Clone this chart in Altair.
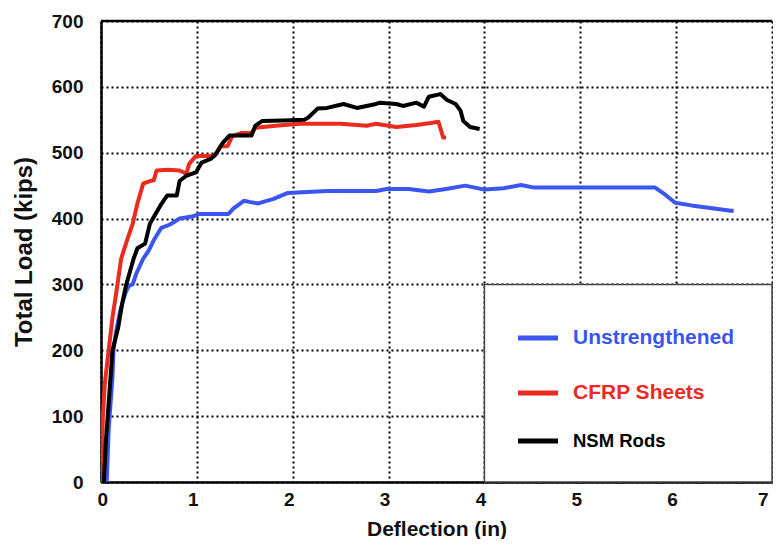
import altair as alt
import pandas as pd

# ---- data ----
unstr_x = [0.06, 0.07, 0.08, 0.10, 0.12, 0.13, 0.16, 0.20, 0.25, 0.29, 0.33, 0.37, 0.44, 0.50, 0.55,
           0.63, 0.72, 0.82, 0.95, 1.03, 1.20, 1.33, 1.38, 1.49, 1.56, 1.64, 1.80, 1.95, 2.10, 2.36,
           2.64, 2.87, 2.98, 3.21, 3.42, 3.60, 3.80, 4.00, 4.20, 4.38, 4.52, 5.00, 5.50, 5.78, 5.88,
           5.99, 6.16, 6.57, 6.60]
unstr_y = [0, 40, 80, 120, 160, 200, 230, 260, 285, 298, 300, 317, 339, 352, 367,
           386, 391, 400, 403, 407, 407, 407, 415, 427, 425, 423, 430, 439, 440, 442,
           442, 442, 445, 445, 441, 445, 450, 444, 446, 451, 447, 447, 447, 447, 437,
           424, 420, 412, 412]

cfrp_x = [0.00, 0.01, 0.02, 0.04, 0.08, 0.12, 0.17, 0.21, 0.26, 0.33, 0.38, 0.44, 0.51, 0.55, 0.58,
          0.70, 0.82, 0.89, 0.92, 0.99, 1.10, 1.18, 1.25, 1.32, 1.37, 1.47, 1.57, 1.61, 1.82, 2.08,
          2.50, 2.77, 2.87, 3.08, 3.29, 3.44, 3.52, 3.57, 3.60]
cfrp_y = [0, 50, 100, 150, 200, 250, 298, 339, 362, 392, 423, 453, 457, 458, 473,
          474, 473, 468, 483, 495, 495, 495, 510, 510, 525, 530, 530, 538, 541, 544,
          544, 541, 544, 539, 542, 545, 547, 523, 523]

nsm_x = [0.03, 0.05, 0.08, 0.12, 0.18, 0.22, 0.26, 0.34, 0.38, 0.46, 0.51, 0.62, 0.69, 0.79, 0.82,
         0.89, 0.99, 1.05, 1.15, 1.20, 1.27, 1.34, 1.45, 1.57, 1.61, 1.68, 1.90, 2.12, 2.16, 2.26,
         2.36, 2.53, 2.67, 2.87, 2.91, 3.08, 3.15, 3.29, 3.37, 3.42, 3.54, 3.61, 3.70, 3.75, 3.78,
         3.85, 3.95]
nsm_y = [0, 60, 120, 200, 235, 270, 298, 339, 355, 362, 392, 420, 435, 435, 457,
         465, 470, 485, 491, 498, 515, 526, 526, 526, 541, 548, 549, 550, 553, 567,
         568, 574, 568, 574, 576, 574, 571, 576, 570, 585, 589, 580, 574, 564, 548,
         539, 536]

series_names = ["Unstrengthened", "CFRP Sheets", "NSM Rods"]
series_colors = ["#3b55f2", "#ec2a1e", "#000000"]
x_ticks = [0, 1, 2, 3, 4, 5, 6, 7]
y_ticks = [0, 100, 200, 300, 400, 500, 600, 700]

rows = []
for name, xs, ys in zip(series_names, [unstr_x, cfrp_x, nsm_x], [unstr_y, cfrp_y, nsm_y]):
    for i, (a, b) in enumerate(zip(xs, ys)):
        rows.append({"series": name, "x": a, "y": b, "i": i})
df = pd.DataFrame(rows)

FONT = "Liberation Sans"
W, H = 671, 461

xscale = alt.Scale(domain=[0, 7], nice=False, zero=False)
yscale = alt.Scale(domain=[0, 700], nice=False, zero=False)
color_scale = alt.Scale(domain=series_names, range=series_colors)

lines = alt.Chart(df).mark_line(strokeWidth=4, strokeJoin="round", clip=True).encode(
    x=alt.X("x:Q", scale=xscale, axis=alt.Axis(
        values=x_ticks, title="Deflection (in)", format="d",
        grid=True, gridColor="#000", gridDash=[2, 3], gridWidth=2,
        domainColor="#000", domainWidth=2.5, ticks=False,
        labelFont=FONT, labelFontSize=19, labelFontWeight="bold", labelColor="#111",
        labelPadding=8, labelOffset=-4,
        titleFont=FONT, titleFontSize=21, titleFontWeight="bold", titleColor="#111",
        titlePadding=9)),
    y=alt.Y("y:Q", scale=yscale, axis=alt.Axis(
        values=y_ticks, title="Total Load (kips)", format="d",
        grid=True, gridColor="#000", gridDash=[2, 3], gridWidth=2,
        domainColor="#000", domainWidth=2.5, ticks=False,
        labelFont=FONT, labelFontSize=19, labelFontWeight="bold", labelColor="#111",
        labelPadding=18,
        titleFont=FONT, titleFontSize=24, titleFontWeight="bold", titleColor="#111",
        titlePadding=15)),
    color=alt.Color("series:N", scale=color_scale, legend=None),
    order="i:Q",
    detail="series:N",
)

one = pd.DataFrame({"a": [0]})

top_rule = alt.Chart(one).mark_rule(color="#000", strokeWidth=2.5).encode(
    x=alt.value(0), x2=alt.value(W), y=alt.value(0))

legend_box = alt.Chart(one).mark_rect(fill="white", stroke="#444", strokeWidth=1.5).encode(
    x=alt.datum(4, scale=xscale), x2=alt.datum(7),
    y=alt.datum(0, scale=yscale), y2=alt.datum(300))

legend_layers = []
legend_rows_y = [317, 372, 420]
legend_font_sizes = [21, 21, 18.5]
for name, col, ly, fs in zip(series_names, series_colors, legend_rows_y, legend_font_sizes):
    legend_layers.append(
        alt.Chart(one).mark_rule(color=col, strokeWidth=5).encode(
            x=alt.value(417), x2=alt.value(457), y=alt.value(ly)))
    legend_layers.append(
        alt.Chart(one).mark_text(text=name, color=col, font=FONT, fontSize=fs,
                                 fontWeight="bold", align="left", baseline="middle").encode(
            x=alt.value(472), y=alt.value(ly)))

chart = alt.layer(lines, top_rule, legend_box, *legend_layers).properties(
    width=W, height=H,
    autosize=alt.AutoSizeParams(type="none"),
    padding={"left": 93, "top": 13, "right": 1, "bottom": 57},
).configure_view(stroke=None).configure(background="white")

chart.save("out.html", embed_options={"renderer": "svg", "actions": False})
